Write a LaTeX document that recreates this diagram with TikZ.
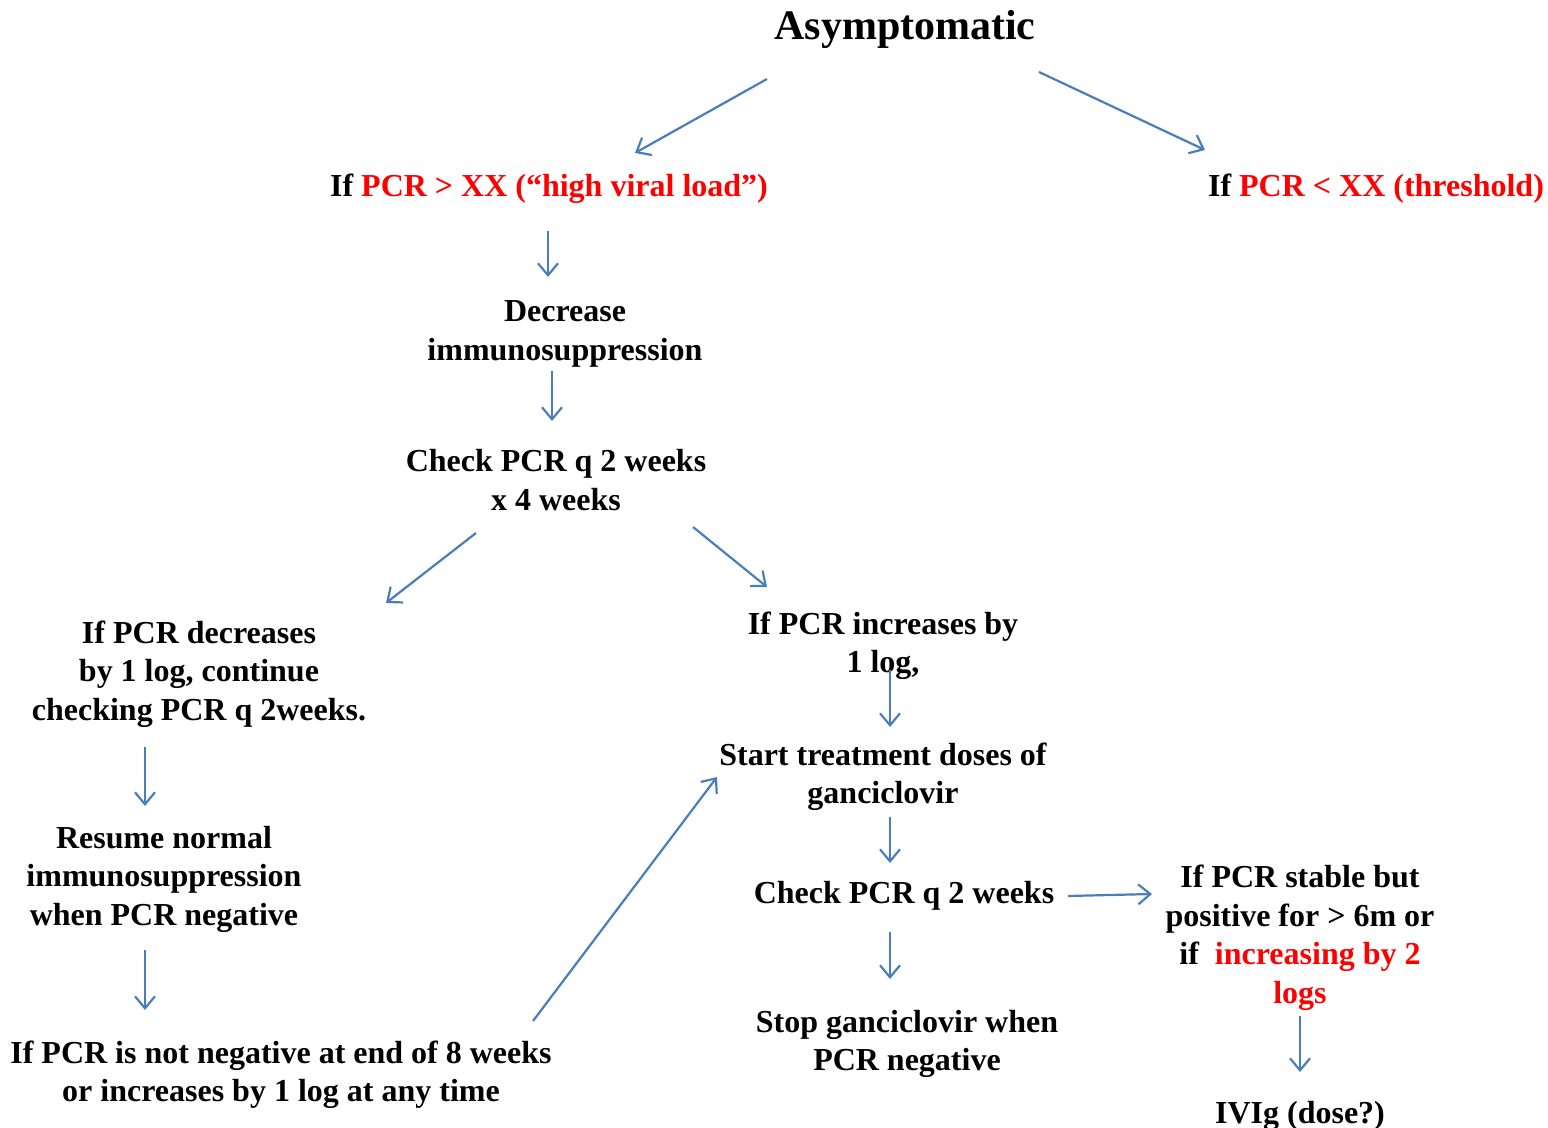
\documentclass[tikz,border=0pt]{standalone}
\usepackage{fontspec}
\setmainfont{Liberation Serif}
\usetikzlibrary{arrows.meta}
\definecolor{arrowblue}{RGB}{74,126,187}
\newcommand{\hl}[1]{\textcolor{red}{#1}}
\tikzset{
  txt/.style={font=\fontsize{16}{19.25}\selectfont\bfseries, align=center, inner sep=0pt, yshift=-1.5pt},
  arr/.style={draw=arrowblue, line width=1.1pt, -{Straight Barb[length=6pt,width=10pt]}},
}
\begin{document}
\begin{tikzpicture}[x=0.5pt,y=-0.5pt]
	\useasboundingbox (0,0) rectangle (1548,1128);

	% Titulo
	\node[txt, font=\fontsize{21}{25}\selectfont\bfseries] (asym) at (905,26) {Asymptomatic};

	% Umbral de PCR
	\node[txt] (hi) at (549,186) {If \hl{PCR > XX (``high viral load'')}};
	\node[txt] (lo) at (1376,186) {If \hl{PCR < XX (threshold)}};

	% Rama izquierda
	\node[txt] (dec) at (565,331) {Decrease\\immunosuppression};
	\node[txt] (chk) at (556,477) {Check PCR q 2 weeks\\x 4 weeks};
	\node[txt] (decr) at (199,671) {If PCR decreases\\by 1 log, continue\\checking PCR q 2weeks.};
	\node[txt] (resume) at (164,876) {Resume normal\\immunosuppression\\when PCR negative};
	\node[txt] (notneg) at (281,1072) {If PCR is not negative at end of 8 weeks\\or increases by 1 log at any time};

	% Rama de tratamiento
	\node[txt] (incr) at (883,643) {If PCR increases by\\1 log,};
	\node[txt] (start) at (883,774) {Start treatment doses of\\ganciclovir};
	\node[txt] (chkb) at (904,893) {Check PCR q 2 weeks};
	\node[txt] (stop) at (907,1041) {Stop ganciclovir when\\PCR negative};
	\node[txt] (stable) at (1300,935) {If PCR stable but\\positive for > 6m or\\if~~\hl{increasing by 2}\\\hl{logs}};
	\node[txt] (ivig) at (1300,1113) {IVIg (dose?)};

	% Extremos de las flechas
	\coordinate (a1s) at (767,79);   \coordinate (a1e) at (635,153);
	\coordinate (a2s) at (1039,72);  \coordinate (a2e) at (1205,150);
	\coordinate (a3s) at (548,231);  \coordinate (a3e) at (548,277);
	\coordinate (a4s) at (552,371);  \coordinate (a4e) at (552,421);
	\coordinate (a5s) at (476,533);  \coordinate (a5e) at (386,603);
	\coordinate (a6s) at (693,527);  \coordinate (a6e) at (767,587);
	\coordinate (a7s) at (145,747);  \coordinate (a7e) at (145,806);
	\coordinate (a8s) at (145,950);  \coordinate (a8e) at (145,1010);
	\coordinate (a9s) at (533,1021); \coordinate (a9e) at (717,777);
	\coordinate (b1s) at (890,670);  \coordinate (b1e) at (890,727);
	\coordinate (b2s) at (890,817);  \coordinate (b2e) at (890,863);
	\coordinate (b3s) at (1068,896); \coordinate (b3e) at (1152,894);
	\coordinate (b4s) at (890,932);  \coordinate (b4e) at (890,979);
	\coordinate (b5s) at (1300,1016); \coordinate (b5e) at (1300,1072);

	% Flechas
	\draw[arr] (a1s) -- (a1e);
	\draw[arr] (a2s) -- (a2e);
	\draw[arr] (a3s) -- (a3e);
	\draw[arr] (a4s) -- (a4e);
	\draw[arr] (a5s) -- (a5e);
	\draw[arr] (a6s) -- (a6e);
	\draw[arr] (a7s) -- (a7e);
	\draw[arr] (a8s) -- (a8e);
	\draw[arr] (a9s) -- (a9e);
	\draw[arr] (b1s) -- (b1e);
	\draw[arr] (b2s) -- (b2e);
	\draw[arr] (b3s) -- (b3e);
	\draw[arr] (b4s) -- (b4e);
	\draw[arr] (b5s) -- (b5e);
\end{tikzpicture}
\end{document}
